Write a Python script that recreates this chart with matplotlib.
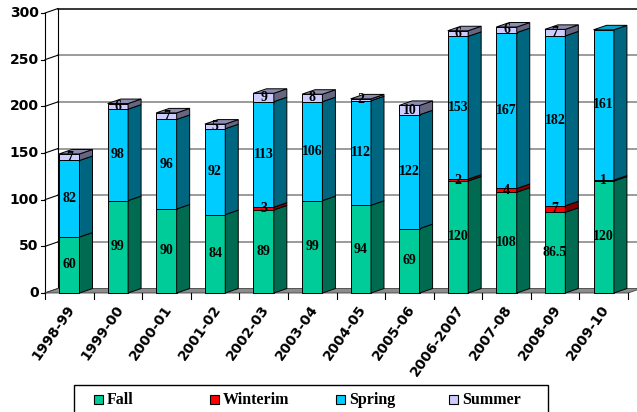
import matplotlib
matplotlib.use('Agg')
import matplotlib.pyplot as plt
from matplotlib.patches import Polygon, Rectangle

# ── Data ───────────────────────────────────────────────────────────────────
YEARS    = ["1998-99", "1999-00", "2000-01", "2001-02", "2002-03", "2003-04",
            "2004-05", "2005-06", "2006-2007", "2007-08", "2008-09", "2009-10"]
FALL     = [60, 99, 90, 84, 89, 99, 94, 69, 120, 108, 86.5, 120]
WINTERIM = [0, 0, 0, 0, 3, 0, 0, 0, 2, 4, 7, 1]
SPRING   = [82, 98, 96, 92, 113, 106, 112, 122, 153, 167, 182, 161]
SUMMER   = [7, 6, 7, 5, 9, 8, 2, 10, 6, 6, 7, 0]
SERIES   = ["Fall", "Winterim", "Spring", "Summer"]
YTICKS   = [0, 50, 100, 150, 200, 250, 300]

# front, side, top colours for each series
COLORS = {
    "Fall":     ("#00CC99", "#006B50", "#00A07A"),
    "Winterim": ("#FF0000", "#800000", "#B00000"),
    "Spring":   ("#00CCFF", "#006680", "#0AA0C8"),
    "Summer":   ("#CCCCFF", "#666680", "#8C8CAE"),
}

W, H = 637, 412
fig = plt.figure(figsize=(W / 100, H / 100), dpi=100)
ax = fig.add_axes([45 / W, (H - 293) / H, 583 / W, 280 / H])
ax.set_xlim(-0.5, len(YEARS) - 0.5)
ax.set_ylim(0, 300)
ax.axis('off')

DX = 13 / 48.58      # depth offset in category units
DY = 4.8             # depth offset in value units
HW = 0.21            # half width of bar front face
x0, x1 = -0.5, len(YEARS) - 0.5

def poly(pts, fc, ec='black', lw=0.7, z=2):
    ax.add_patch(Polygon(pts, closed=True, facecolor=fc, edgecolor=ec,
                         linewidth=lw, zorder=z, clip_on=False))

# ── walls, grid and floor ──────────────────────────────────────────────────
for y in YTICKS[1:]:
    col = 'black' if y == 300 else '#808080'
    ax.plot([x0 + DX, x1 + DX], [y + DY, y + DY], color=col, lw=1.1,
            zorder=1, clip_on=False)
for y in YTICKS:
    ax.plot([x0, x0 + DX], [y, y + DY], color='black', lw=0.8,
            zorder=1, clip_on=False)
    ax.plot([x0 - 0.085, x0], [y, y], color='black', lw=0.8,
            zorder=1, clip_on=False)
    ax.text(x0 - 0.13, y, str(y), ha='right', va='center', fontsize=10,
            fontweight='bold', family='DejaVu Sans')
ax.plot([x0 + DX, x0 + DX], [DY, 300 + DY], color='black', lw=0.8,
        zorder=1, clip_on=False)
ax.plot([x0, x0], [0, 300], color='black', lw=0.8, zorder=1, clip_on=False)
poly([(x0, 0), (x1, 0), (x1 + DX, DY), (x0 + DX, DY)], '#8C8C8C',
     ec='#404040', lw=0.6, z=1)
for i in range(len(YEARS) + 1):
    ax.plot([x0 + i, x0 + i], [0, -6], color='black', lw=0.8,
            zorder=1, clip_on=False)

# ── bars ───────────────────────────────────────────────────────────────────
data = {"Fall": FALL, "Winterim": WINTERIM, "Spring": SPRING, "Summer": SUMMER}
labels = []
for i in range(len(YEARS)):
    base = 0
    vals = [(s, data[s][i]) for s in SERIES if data[s][i] > 0]
    for k, (s, v) in enumerate(vals):
        front, side, top = COLORS[s]
        a, b = i - HW, i + HW
        y0, y1 = base, base + v
        poly([(a, y0), (b, y0), (b, y1), (a, y1)], front, z=3)
        poly([(b, y0), (b + DX, y0 + DY), (b + DX, y1 + DY), (b, y1)], side, z=3)
        if k == len(vals) - 1:
            poly([(a, y1), (b, y1), (b + DX, y1 + DY), (a + DX, y1 + DY)], top, z=3)
        labels.append((i, (y0 + y1) / 2, v))
        base = y1

for i, y, v in labels:
    txt = f"{v:g}"
    ax.text(i, y, txt, ha='center', va='center', fontsize=10,
            fontweight='bold', family='Liberation Serif', zorder=5)

for i, yr in enumerate(YEARS):
    ax.text(i - 0.06, -10, yr, ha='right', va='top', rotation=55,
            rotation_mode='anchor', fontsize=10, fontweight='bold',
            family='DejaVu Sans')

# ── legend box ─────────────────────────────────────────────────────────────
fig.patches.append(Rectangle((74 / W, -0.05), 474 / W, 0.05 + (H - 385) / H,
                             transform=fig.transFigure, facecolor='white',
                             edgecolor='black', linewidth=1.0))
LEG_X = [94, 210, 336, 449]
for s, lx in zip(SERIES, LEG_X):
    fig.patches.append(Rectangle((lx / W, (H - 404) / H), 9 / W, 9 / H,
                                 transform=fig.transFigure,
                                 facecolor=COLORS[s][0], edgecolor='black',
                                 linewidth=0.8))
    fig.text((lx + 13) / W, (H - 399.5) / H, s, ha='left', va='center',
             fontsize=11.5, fontweight='bold', family='Liberation Serif')

plt.savefig("out.png", dpi=100)
